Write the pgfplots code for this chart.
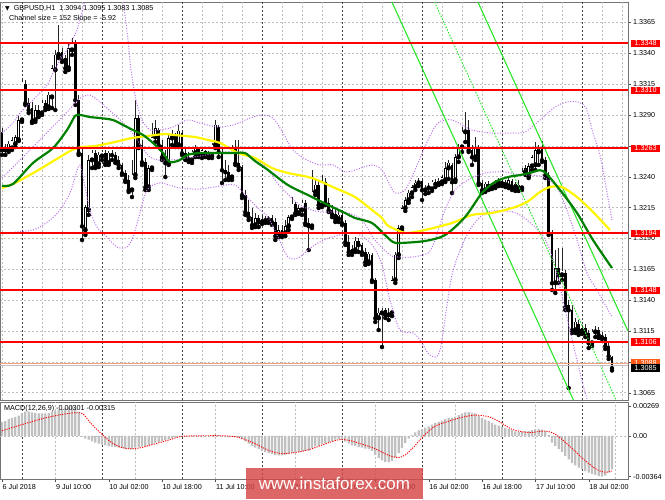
\documentclass[border=0pt]{standalone}
\usepackage{fontspec}
\setmainfont{Liberation Sans}
\newfontfamily\dejavu{DejaVu Sans}
\usepackage{pgfplots}
\pgfplotsset{compat=1.18}
\usepackage{pgfplotstable}
\definecolor{bbcol}{RGB}{185,110,235}
\definecolor{chgreen}{RGB}{40,230,40}
\definecolor{magreen}{RGB}{0,128,0}
\definecolor{mayellow}{RGB}{255,245,0}
\definecolor{gridgray}{RGB}{190,190,190}
\definecolor{histgray}{RGB}{192,192,192}
\definecolor{wm}{RGB}{214,70,70}
\definecolor{salmon}{RGB}{250,160,130}
\definecolor{askor}{RGB}{255,90,20}
\definecolor{levred}{RGB}{255,0,0}
\newcommand\mt{\fontsize{7.2}{8.5}\selectfont}

\pgfplotstableread{
i o h l c
0 1.32762 1.32794 1.32576 1.32616
1 1.32616 1.32665 1.32576 1.32632
2 1.32616 1.32689 1.32600 1.32665
3 1.32632 1.32721 1.32616 1.32697
4 1.32665 1.32738 1.32640 1.32721
5 1.32697 1.32891 1.32689 1.32859
6 1.32859 1.33199 1.32843 1.33167
7 1.33151 1.33183 1.32981 1.32997
8 1.32997 1.33037 1.32916 1.32940
9 1.32956 1.33005 1.32835 1.32851
10 1.32859 1.32981 1.32843 1.32940
11 1.32940 1.32981 1.32883 1.32916
12 1.32916 1.33021 1.32900 1.32997
13 1.32997 1.33021 1.32940 1.32964
14 1.32964 1.33086 1.32948 1.33062
15 1.33045 1.33305 1.32956 1.33280
16 1.33264 1.33426 1.32940 1.33386
17 1.33386 1.33629 1.33361 1.33410
18 1.33410 1.33442 1.33329 1.33345
19 1.33361 1.33386 1.33248 1.33280
20 1.33280 1.33483 1.33264 1.33442
21 1.33426 1.33523 1.33386 1.33491
22 1.33491 1.33507 1.32981 1.33021
23 1.33021 1.33062 1.32576 1.32592
24 1.32592 1.32632 1.31887 1.32000
25 1.31968 1.32171 1.31928 1.32154
26 1.32130 1.32576 1.32090 1.32535
27 1.32535 1.32616 1.32470 1.32592
28 1.32592 1.32616 1.32470 1.32486
29 1.32502 1.32600 1.32478 1.32576
30 1.32567 1.32616 1.32535 1.32600
31 1.32592 1.32616 1.32495 1.32511
32 1.32511 1.32608 1.32495 1.32592
33 1.32592 1.32616 1.32535 1.32576
34 1.32576 1.32600 1.32511 1.32535
35 1.32535 1.32567 1.32470 1.32495
36 1.32495 1.32511 1.32414 1.32430
37 1.32430 1.32454 1.32357 1.32373
38 1.32373 1.32414 1.32276 1.32292
39 1.32292 1.32535 1.32235 1.32414
40 1.32414 1.33021 1.32389 1.32875
41 1.32875 1.32900 1.32632 1.32657
42 1.32657 1.32697 1.32495 1.32519
43 1.32519 1.32551 1.32292 1.32316
44 1.32316 1.32495 1.32292 1.32470
45 1.32470 1.32835 1.32454 1.32721
46 1.32721 1.32859 1.32681 1.32794
47 1.32778 1.32794 1.32640 1.32657
48 1.32657 1.32697 1.32535 1.32559
49 1.32559 1.32616 1.32397 1.32511
50 1.32511 1.32738 1.32495 1.32713
51 1.32713 1.32778 1.32657 1.32738
52 1.32738 1.32754 1.32640 1.32657
53 1.32657 1.32819 1.32640 1.32770
54 1.32754 1.32778 1.32576 1.32592
55 1.32592 1.32640 1.32535 1.32559
56 1.32559 1.32600 1.32519 1.32535
57 1.32535 1.32616 1.32511 1.32600
58 1.32592 1.32657 1.32559 1.32640
59 1.32632 1.32640 1.32559 1.32576
60 1.32576 1.32632 1.32551 1.32616
61 1.32608 1.32616 1.32559 1.32584
62 1.32584 1.32608 1.32551 1.32567
63 1.32567 1.32673 1.32551 1.32657
64 1.32657 1.32859 1.32632 1.32819
65 1.32802 1.32819 1.32559 1.32600
66 1.32600 1.32632 1.32349 1.32454
67 1.32454 1.32535 1.32373 1.32438
68 1.32438 1.32495 1.32373 1.32397
69 1.32397 1.32657 1.32373 1.32640
70 1.32640 1.32697 1.32495 1.32511
71 1.32511 1.32697 1.32454 1.32478
72 1.32478 1.32495 1.32227 1.32252
73 1.32252 1.32292 1.32090 1.32114
74 1.32114 1.32211 1.32049 1.32073
75 1.32073 1.32146 1.31984 1.32009
76 1.32009 1.32106 1.31992 1.32065
77 1.32065 1.32090 1.31992 1.32033
78 1.32033 1.32090 1.32017 1.32057
79 1.32057 1.32081 1.32025 1.32049
80 1.32049 1.32081 1.32025 1.32065
81 1.32065 1.32090 1.32009 1.32033
82 1.32033 1.32065 1.31887 1.31919
83 1.31928 1.32009 1.31911 1.31968
84 1.31968 1.32009 1.31911 1.31944
85 1.31944 1.32049 1.31919 1.32000
86 1.32000 1.32090 1.31968 1.32073
87 1.32073 1.32235 1.32057 1.32179
88 1.32179 1.32195 1.32090 1.32106
89 1.32106 1.32171 1.32098 1.32146
90 1.32130 1.32211 1.32090 1.32187
91 1.32187 1.32211 1.32009 1.32025
92 1.32025 1.32065 1.31806 1.32000
93 1.32000 1.32454 1.31984 1.32276
94 1.32276 1.32373 1.32252 1.32333
95 1.32333 1.32373 1.32146 1.32171
96 1.32171 1.32414 1.32154 1.32357
97 1.32357 1.32389 1.32171 1.32187
98 1.32187 1.32227 1.32114 1.32130
99 1.32130 1.32171 1.32073 1.32098
100 1.32098 1.32146 1.32033 1.32057
101 1.32057 1.32122 1.32033 1.32090
102 1.32090 1.32130 1.32009 1.32025
103 1.32025 1.32049 1.31847 1.31871
104 1.31871 1.31928 1.31766 1.31790
105 1.31790 1.31847 1.31766 1.31814
106 1.31806 1.31911 1.31790 1.31879
107 1.31879 1.31903 1.31790 1.31847
108 1.31847 1.31863 1.31766 1.31790
109 1.31790 1.31822 1.31685 1.31709
110 1.31709 1.31790 1.31693 1.31774
111 1.31766 1.31782 1.31547 1.31563
112 1.31563 1.31579 1.31223 1.31255
113 1.31255 1.31336 1.31158 1.31296
114 1.31296 1.31336 1.31020 1.31320
115 1.31320 1.31336 1.31255 1.31280
116 1.31280 1.31336 1.31239 1.31296
117 1.31296 1.31595 1.31271 1.31563
118 1.31563 1.31790 1.31539 1.31766
119 1.31766 1.32009 1.31741 1.31984
120 1.31984 1.32171 1.31968 1.32146
121 1.32146 1.32235 1.32122 1.32211
122 1.32211 1.32292 1.32187 1.32268
123 1.32268 1.32333 1.32235 1.32316
124 1.32316 1.32373 1.32292 1.32349
125 1.32349 1.32389 1.32324 1.32365
126 1.32365 1.32381 1.32211 1.32292
127 1.32292 1.32333 1.32260 1.32308
128 1.32308 1.32349 1.32268 1.32324
129 1.32300 1.32373 1.32284 1.32357
130 1.32357 1.32381 1.32316 1.32341
131 1.32341 1.32389 1.32333 1.32365
132 1.32357 1.32414 1.32341 1.32397
133 1.32373 1.32519 1.32357 1.32470
134 1.32470 1.32535 1.32381 1.32511
135 1.32495 1.32511 1.32268 1.32357
136 1.32373 1.32584 1.32357 1.32559
137 1.32559 1.32665 1.32519 1.32640
138 1.32640 1.32802 1.32600 1.32762
139 1.32762 1.32924 1.32681 1.32778
140 1.32778 1.32859 1.32600 1.32616
141 1.32616 1.32657 1.32495 1.32559
142 1.32559 1.32721 1.32535 1.32632
143 1.32632 1.32657 1.32333 1.32349
144 1.32349 1.32373 1.32268 1.32292
145 1.32292 1.32357 1.32276 1.32341
146 1.32341 1.32365 1.32292 1.32316
147 1.32316 1.32349 1.32300 1.32333
148 1.32324 1.32373 1.32308 1.32357
149 1.32349 1.32389 1.32324 1.32365
150 1.32365 1.32381 1.32324 1.32349
151 1.32349 1.32373 1.32316 1.32341
152 1.32324 1.32389 1.32308 1.32373
153 1.32365 1.32381 1.32292 1.32316
154 1.32316 1.32357 1.32284 1.32341
155 1.32333 1.32373 1.32284 1.32308
156 1.32308 1.32470 1.32292 1.32438
157 1.32438 1.32495 1.32414 1.32470
158 1.32405 1.32511 1.32389 1.32486
159 1.32486 1.32576 1.32454 1.32559
160 1.32495 1.32681 1.32454 1.32616
161 1.32600 1.32657 1.32495 1.32640
162 1.32640 1.32689 1.32519 1.32535
163 1.32535 1.32559 1.32389 1.32414
164 1.32414 1.32438 1.31928 1.31944
165 1.31944 1.31968 1.31482 1.31539
166 1.31539 1.31806 1.31458 1.31660
167 1.31660 1.31822 1.31539 1.31604
168 1.31604 1.31822 1.31563 1.31636
169 1.31620 1.31644 1.31320 1.31344
170 1.31361 1.31401 1.30688 1.31320
171 1.31320 1.31361 1.31134 1.31158
172 1.31158 1.31255 1.31134 1.31223
173 1.31207 1.31239 1.31118 1.31150
174 1.31150 1.31199 1.31126 1.31174
175 1.31174 1.31207 1.31101 1.31134
176 1.31134 1.31158 1.31012 1.31053
177 1.31053 1.31166 1.31028 1.31142
178 1.31142 1.31190 1.31101 1.31158
179 1.31158 1.31182 1.31093 1.31118
180 1.31118 1.31142 1.31085 1.31101
181 1.31101 1.31126 1.31004 1.31028
182 1.31028 1.31053 1.30923 1.30947
183 1.30940 1.30950 1.30830 1.30850
}\candles

\pgfplotstableread{
i m
0 0.00125
1 0.00130
2 0.00150
3 0.00160
4 0.00170
5 0.00180
6 0.00205
7 0.00215
8 0.00215
9 0.00210
10 0.00205
11 0.00200
12 0.00200
13 0.00200
14 0.00205
15 0.00215
16 0.00225
17 0.00235
18 0.00240
19 0.00245
20 0.00255
21 0.00269
22 0.00245
23 0.00215
24 -0.00010
25 -0.00025
26 -0.00035
27 -0.00050
28 -0.00060
29 -0.00070
30 -0.00078
31 -0.00085
32 -0.00092
33 -0.00097
34 -0.00102
35 -0.00106
36 -0.00110
37 -0.00115
38 -0.00120
39 -0.00118
40 -0.00105
41 -0.00100
42 -0.00095
43 -0.00095
44 -0.00085
45 -0.00072
46 -0.00060
47 -0.00055
48 -0.00048
49 -0.00040
50 -0.00028
51 -0.00020
52 -0.00015
53 -0.00006
54 -0.00008
55 -0.00008
56 -0.00010
57 -0.00008
58 -0.00004
59 -0.00004
60 -0.00002
61 -0.00002
62 -0.00002
63 0.00002
64 0.00010
65 0.00008
66 -0.00002
67 -0.00008
68 -0.00015
69 -0.00008
70 -0.00010
71 -0.00015
72 -0.00030
73 -0.00050
74 -0.00070
75 -0.00090
76 -0.00105
77 -0.00120
78 -0.00135
79 -0.00145
80 -0.00155
81 -0.00163
82 -0.00172
83 -0.00175
84 -0.00176
85 -0.00170
86 -0.00163
87 -0.00150
88 -0.00148
89 -0.00145
90 -0.00138
91 -0.00135
92 -0.00133
93 -0.00110
94 -0.00095
95 -0.00090
96 -0.00075
97 -0.00068
98 -0.00058
99 -0.00045
100 -0.00035
101 -0.00028
102 -0.00035
103 -0.00052
104 -0.00068
105 -0.00085
106 -0.00090
107 -0.00098
108 -0.00105
109 -0.00115
110 -0.00118
111 -0.00135
112 -0.00170
113 -0.00200
114 -0.00220
115 -0.00232
116 -0.00236
117 -0.00225
118 -0.00195
119 -0.00155
120 -0.00110
121 -0.00065
122 -0.00025
123 0.00005
124 0.00030
125 0.00048
126 0.00060
127 0.00072
128 0.00085
129 0.00100
130 0.00115
131 0.00125
132 0.00135
133 0.00150
134 0.00160
135 0.00160
136 0.00172
137 0.00185
138 0.00200
139 0.00210
140 0.00212
141 0.00205
142 0.00200
143 0.00180
144 0.00160
145 0.00145
146 0.00130
147 0.00115
148 0.00100
149 0.00090
150 0.00080
151 0.00070
152 0.00060
153 0.00050
154 0.00040
155 0.00035
156 0.00038
157 0.00042
158 0.00045
159 0.00050
160 0.00058
161 0.00060
162 0.00055
163 0.00045
164 0.00005
165 -0.00060
166 -0.00090
167 -0.00120
168 -0.00145
169 -0.00180
170 -0.00210
171 -0.00245
172 -0.00265
173 -0.00285
174 -0.00300
175 -0.00315
176 -0.00330
177 -0.00340
178 -0.00350
179 -0.00360
180 -0.00364
181 -0.00355
182 -0.00330
183 -0.00301
}\macdtab

\tikzset{
  lab/.style={anchor=west, text=white, font=\mt, inner xsep=3.5pt, inner ysep=1.2pt, xshift=3pt},
}

\begin{document}
\begin{tikzpicture}[x=1pt,y=1pt]
\path[use as bounding box] (0,0) rectangle (665,499);
\begin{scope}[yshift=99pt]
\begin{axis}[
  anchor=south west, width=628pt, height=398pt, scale only axis,
  xmin=-0.6, xmax=187.8, ymin=1.30591, ymax=1.33815,
  clip mode=individual,
  axis line style={draw=black!55},
  xtick=\empty,
  ytick={1.3065,1.3090,1.3115,1.3140,1.3165,1.3190,1.3215,1.3240,1.3265,1.3290,1.3315,1.3340,1.3365},
  yticklabels={1.3065,,1.3115,1.3140,1.3165,1.3190,1.3215,1.3240,,1.3290,1.3315,1.3340,1.3365},
  scaled y ticks=false,
  ytick pos=right, yticklabel pos=right, tick align=outside, major tick length=3pt,
  ytick style={black!70},
  ymajorgrids, grid style={gridgray, line width=0.5pt, dash pattern=on 2pt off 2pt},
  yticklabel style={font=\mt, inner sep=1pt, xshift=1pt},
]
\pgfplotsinvokeforeach{0,6,...,186}{\addplot[gridgray, line width=0.5pt, dash pattern=on 2pt off 2pt] coordinates {(#1,1.30591) (#1,1.33815)};}
\pgfplotsinvokeforeach{6,30,...,174}{\addplot[black!75, line width=0.6pt, dash pattern=on 2pt off 2pt] coordinates {(#1,1.30591) (#1,1.33815)};}

% candles: wicks, bodies, white interiors of rising candles
\addplot[only marks, mark=none, error bars/.cd, y dir=plus, y explicit, error mark=none,
  error bar style={black!85, line width=0.7pt}]
  table[x=i, y=l, y error expr={\thisrow{h}-\thisrow{l}}] {\candles};
\addplot[only marks, mark=none, error bars/.cd, y dir=plus, y explicit, error mark=none,
  error bar style={black, line width=2.6pt}]
  table[x=i, y expr={min(\thisrow{o},\thisrow{c})-0.00002}, y error expr={abs(\thisrow{c}-\thisrow{o})+0.00004}] {\candles};
\addplot[only marks, mark=none, restrict expr to domain={\thisrow{c}-\thisrow{o}}{0.00011:1},
  error bars/.cd, y dir=plus, y explicit, error mark=none,
  error bar style={white, line width=1.1pt}]
  table[x=i, y expr={\thisrow{o}+0.00004}, y error expr={\thisrow{c}-\thisrow{o}-0.00008}] {\candles};

% Bollinger bands
\addplot[bbcol, line width=1pt, dash pattern=on 1pt off 1.6pt, smooth] coordinates {
(0,1.32754) (3.3,1.32835) (5.4,1.32916) (9.3,1.33021) (13.5,1.33143) (15.3,1.33240) (17.4,1.33345)
(19.5,1.33426) (21,1.33507) (22.5,1.33588) (24,1.33734) (24.7,1.33815)};
\addplot[bbcol, line width=1pt, dash pattern=on 1pt off 1.6pt, smooth] coordinates {
(36.4,1.33815) (37.8,1.33507) (38.7,1.33264) (40.2,1.33021) (42,1.32859) (44.4,1.32778) (47.4,1.32778)
(51.3,1.32802) (55.5,1.32859) (59.4,1.32835) (64.5,1.32802) (69.3,1.32819) (74.4,1.32875) (78,1.32900)
(81.3,1.32875) (84.3,1.32754) (87.3,1.32616) (91.5,1.32535) (95.4,1.32495) (99.3,1.32495) (102.9,1.32438)
(105.9,1.32454) (111,1.32495) (114,1.32454) (116.4,1.32332) (117.9,1.32268) (120.9,1.32292) (123.9,1.32454)
(127.8,1.32697) (130.8,1.32835) (135,1.32859) (141,1.32778) (147,1.32754) (153,1.32754) (156.9,1.32762)
(161.4,1.32859) (165.9,1.32964) (169.5,1.33005) (172.8,1.33005) (175.2,1.32956) (177.3,1.32754)
(179.4,1.32576) (181.2,1.32316) (183,1.32049)};
\addplot[bbcol, line width=1pt, dash pattern=on 1pt off 1.6pt, smooth] coordinates {
(0,1.32389) (9.9,1.32657) (20.1,1.32940) (22.8,1.33021) (26.4,1.33061) (31.5,1.32956) (38.4,1.32778)
(44.4,1.32559) (50.4,1.32535) (59.4,1.32567) (68.4,1.32600) (77.4,1.32519) (83.4,1.32324) (89.4,1.32171)
(95.4,1.32114) (101.4,1.32114) (107.4,1.32065) (111.9,1.31887) (116.4,1.31766) (118.8,1.31749)
(123,1.31749) (127.8,1.31782) (129.9,1.31887) (132.9,1.32130) (135.9,1.32292) (139.8,1.32373)
(144.9,1.32430) (150.9,1.32438) (155.4,1.32414) (161.4,1.32405) (165.9,1.32332) (168.9,1.32171)
(172.5,1.31887) (175.5,1.31620) (178.5,1.31482) (183,1.31263)};
\addplot[bbcol, line width=1pt, dash pattern=on 1pt off 1.6pt, smooth] coordinates {
(0,1.31944) (9.3,1.31968) (14.4,1.32049) (17.4,1.32130) (20.4,1.32268) (21.9,1.32397) (23.4,1.32495)
(24.9,1.32316) (26.4,1.32130) (28.5,1.31992) (31.5,1.31911) (34.5,1.31830) (37.5,1.31830) (39.3,1.31911)
(41.4,1.32106) (43.5,1.32292) (47.4,1.32349) (53.4,1.32308) (59.4,1.32300) (65.4,1.32324) (69.9,1.32332)
(74.4,1.32211) (77.4,1.32130) (79.8,1.32073) (82.8,1.31911) (85.8,1.31749) (88.8,1.31741) (91.8,1.31806)
(94.8,1.31863) (99,1.31911) (105.9,1.31944) (111,1.31847) (114,1.31685) (116.4,1.31401) (119.4,1.31158)
(123.3,1.31134) (125.4,1.31077) (128.4,1.30956) (131.4,1.30996) (135,1.31604) (139.8,1.31944)
(144.9,1.32106) (150.9,1.32122) (155.4,1.32090) (161.4,1.31952) (164.4,1.31806) (166.5,1.31604)
(168.3,1.31401) (170.4,1.31158) (172.5,1.30915) (174.3,1.30712) (175.5,1.30600)};

% regression channel
\addplot[chgreen, line width=1.1pt] coordinates {(116.97,1.33815) (171.43,1.30591)};
\addplot[chgreen, line width=1.1pt] coordinates {(142.77,1.33815) (187.8,1.31149)};
\addplot[chgreen, line width=1pt, dash pattern=on 1.5pt off 1.5pt] coordinates {(129.77,1.33815) (184.23,1.30591)};

% moving averages
\addplot[mayellow, line width=2.2pt, smooth] coordinates {
(0,1.32308) (3.9,1.32349) (9.9,1.32438) (15.9,1.32535) (21,1.32616) (24,1.32640) (27.9,1.32648)
(33.9,1.32681) (39,1.32713) (45.9,1.32737) (48.9,1.32746) (51.9,1.32737) (57.9,1.32721) (61.8,1.32697)
(65.4,1.32673) (70.8,1.32592) (75.9,1.32551) (81,1.32470) (85.8,1.32430) (93,1.32389) (99.9,1.32308)
(105.9,1.32235) (111,1.32130) (114,1.32065) (115.5,1.32009) (118.5,1.31968) (121.5,1.31944)
(126.9,1.31968) (135,1.32025) (141,1.32090) (147,1.32106) (153,1.32146) (157.5,1.32195) (161.4,1.32276)
(164.4,1.32316) (168,1.32316) (172.5,1.32235) (177.3,1.32114) (182.4,1.31968)};
\addplot[magreen, line width=2.2pt, smooth] coordinates {
(0,1.32327) (3.3,1.32341) (9.3,1.32511) (15.3,1.32632) (19.5,1.32778) (21.9,1.32891) (23.4,1.32900)
(26.4,1.32883) (29.4,1.32875) (33.3,1.32859) (36.3,1.32819) (39.3,1.32778) (42.3,1.32738) (45.3,1.32673)
(48.3,1.32592) (50.4,1.32519) (53.4,1.32535) (55.5,1.32576) (59.4,1.32592) (63.9,1.32592) (69.9,1.32592)
(72.9,1.32592) (75.9,1.32527) (79.8,1.32454) (85.8,1.32332) (91.8,1.32251) (97.8,1.32171) (102.9,1.32106)
(105.9,1.32065) (111,1.32025) (114.9,1.31927) (117.3,1.31871) (119.4,1.31863) (126.9,1.31879)
(132.9,1.31927) (138.9,1.32073) (144,1.32268) (147.9,1.32357) (151.8,1.32397) (155.4,1.32413)
(158.4,1.32430) (162.3,1.32446) (167.4,1.32292) (172.5,1.32106) (177.3,1.31887) (183,1.31660)};

% price lines
\addplot[black!25, line width=0.8pt] coordinates {(-0.6,1.30875) (187.8,1.30875)};
\addplot[salmon, line width=0.8pt] coordinates {(-0.6,1.30891) (187.8,1.30891)};
\addplot[levred, line width=2pt] coordinates {(-0.6,1.3348) (187.8,1.3348)};
\addplot[levred, line width=2pt] coordinates {(-0.6,1.3310) (187.8,1.3310)};
\addplot[levred, line width=2pt] coordinates {(-0.6,1.3263) (187.8,1.3263)};
\addplot[levred, line width=2pt] coordinates {(-0.6,1.3194) (187.8,1.3194)};
\addplot[levred, line width=2pt] coordinates {(-0.6,1.3148) (187.8,1.3148)};
\addplot[levred, line width=2pt] coordinates {(-0.6,1.3106) (187.8,1.3106)};
\node[lab, fill=levred] at (axis cs:187.8,1.3348) {1.3348};
\node[lab, fill=levred] at (axis cs:187.8,1.3310) {1.3310};
\node[lab, fill=levred] at (axis cs:187.8,1.3263) {1.3263};
\node[lab, fill=levred] at (axis cs:187.8,1.3194) {1.3194};
\node[lab, fill=levred] at (axis cs:187.8,1.3148) {1.3148};
\node[lab, fill=levred] at (axis cs:187.8,1.3106) {1.3106};
\node[lab, fill=askor] at (axis cs:187.8,1.30891) {1.3088};
\node[lab, fill=black] at (axis cs:187.8,1.30850) {1.3085};
\end{axis}
\end{scope}

\begin{scope}[yshift=20pt]
\begin{axis}[
  anchor=south west, width=628pt, height=77pt, scale only axis,
  xmin=-0.6, xmax=187.8, ymin=-0.00386, ymax=0.00302,
  clip mode=individual,
  axis line style={draw=black!55},
  ytick={-0.00364,0,0.00269}, yticklabels={-0.00364,0.00,0.00269},
  scaled y ticks=false,
  ytick pos=right, yticklabel pos=right, tick align=outside, major tick length=3pt,
  ytick style={black!70}, xtick style={black!70},
  yticklabel style={font=\mt, inner sep=1pt, xshift=1pt},
  xtick={0,16,...,176},
  xticklabels={6 Jul 2018,9 Jul 10:00,10 Jul 02:00,10 Jul 18:00,11 Jul 10:00,12 Jul 02:00,12 Jul 18:00,13 Jul 10:00,16 Jul 02:00,16 Jul 18:00,17 Jul 10:00,18 Jul 02:00},
  xtick pos=bottom,
  xticklabel style={font=\mt, anchor=north west, inner sep=1pt, xshift=-0.5pt, yshift=-1.5pt},
]
\addplot[gridgray, line width=0.5pt, dash pattern=on 2pt off 2pt] coordinates {(-0.6,0) (187.8,0)};
\pgfplotsinvokeforeach{16,40,...,184}{\addplot[gridgray, line width=0.5pt, dash pattern=on 2pt off 2pt] coordinates {(#1,-0.00386) (#1,0.00302)};}
\pgfplotsinvokeforeach{6,30,...,174}{\addplot[black!75, line width=0.6pt, dash pattern=on 2pt off 2pt] coordinates {(#1,-0.00386) (#1,0.00302)};}
\addplot[ybar, bar width=2.3pt, fill=histgray, draw=none] table[x=i, y=m] {\macdtab};
\addplot[red, line width=0.9pt, dash pattern=on 1.2pt off 1.2pt, smooth] coordinates {
(0,0.00045) (6,0.00100) (13,0.00160) (20,0.00200) (24,0.00200) (26.4,0.00120) (29.4,0.00030)
(32.4,-0.00050) (35,-0.00095) (38,-0.00116) (41,-0.00110) (44,-0.00087) (48,-0.00055) (51,-0.00029)
(54,-0.00005) (60,0.00000) (66,0.00000) (71,-0.00014) (76,-0.00072) (80,-0.00130) (84,-0.00159)
(89,-0.00144) (93,-0.00115) (97,-0.00072) (101,-0.00035) (104,-0.00040) (108,-0.00075) (112,-0.00116)
(116,-0.00175) (119,-0.00194) (121,-0.00170) (123.5,-0.00101) (125,-0.00050) (127,0.00014) (130,0.00087)
(134,0.00130) (138,0.00165) (142,0.00185) (146,0.00170) (149,0.00130) (153,0.00058) (158,0.00029)
(163,0.00043) (166,0.00014) (169.5,-0.00072) (172,-0.00140) (174.7,-0.00216) (178.5,-0.00303)
(181,-0.00325) (183,-0.00315)};
\end{axis}
\end{scope}

\node[anchor=west, font=\mt, inner sep=0] at (5,491)
  {{\dejavu\fontsize{6}{6}\selectfont ▼}\ \ GBPUSD,H1\ \ 1.3094 1.3095 1.3083 1.3085};
\node[anchor=west, font=\mt, inner sep=0] at (9,480) {Channel size = 152 Slope = -5.92};
\node[anchor=west, font=\mt, inner sep=0] at (4,90) {MACD(12,26,9) -0.00301 -0.00315};
\node[fill=wm, fill opacity=0.82, text opacity=1, text=white, minimum width=177pt,
  minimum height=31pt, inner sep=0, font=\fontsize{17}{17}\selectfont] at (334.5,15.5) {www.instaforex.com};
\end{tikzpicture}
\end{document}
